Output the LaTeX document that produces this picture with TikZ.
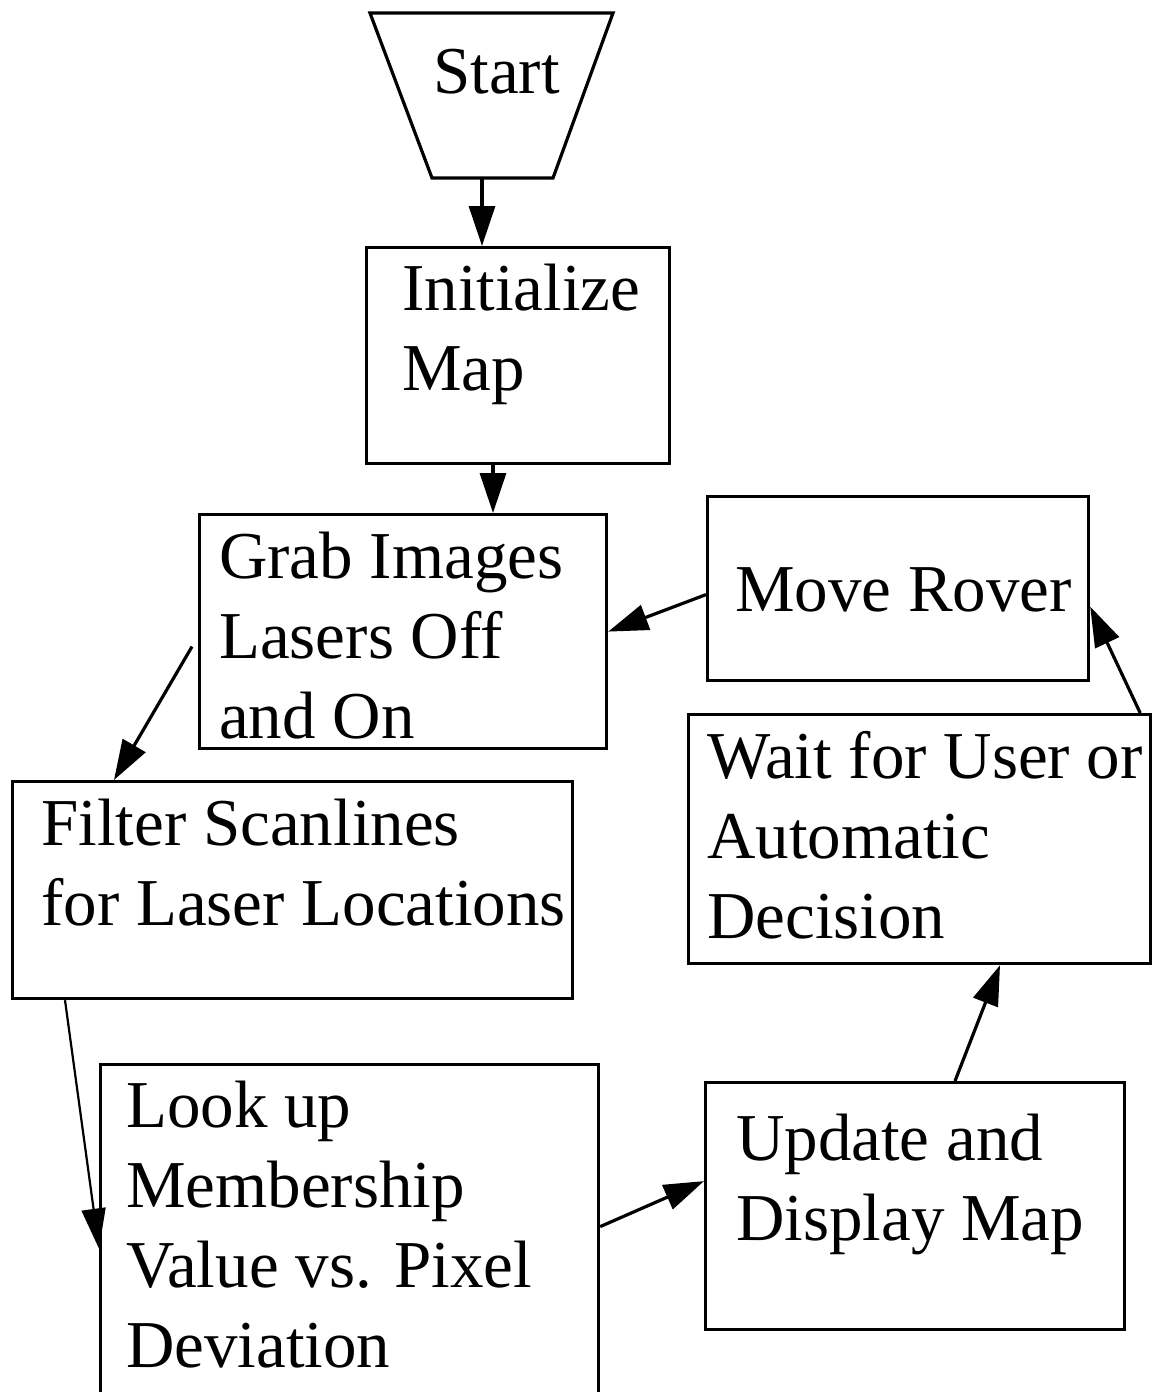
\documentclass[tikz,border=0pt]{standalone}
\usepackage{fontspec}
\setmainfont{Liberation Serif}
\usetikzlibrary{arrows.meta}
\begin{document}
\begin{tikzpicture}[x=1pt,y=-1pt,
  box/.style={draw, line width=3.2pt, inner sep=0pt, anchor=north west},
  txt/.style={anchor=base west, inner sep=0pt, font=\fontsize{67}{80}\selectfont},
  arr/.style={line width=3.2pt, -{Triangle[length=40pt,width=26pt]}},
  thinarr/.style={line width=2.2pt, -{Triangle[length=40pt,width=24pt]}}]
\useasboundingbox (0,0) rectangle (1154,1392);
\fill[white] (0,0) rectangle (1154,1392);
\clip (0,0) rectangle (1154,1392);
% Start trapezoid
\draw[line width=3.2pt, line join=miter] (370,13) -- (613,13) -- (553,178) -- (432,178) -- cycle;
\node[txt] (starttxt) at (433,93) {Start};
\coordinate (sb) at (482,178);
% boxes
\node[box, minimum width=303pt, minimum height=216pt] (init) at (365,246) {};
\node[box, minimum width=407pt, minimum height=234pt] (grab) at (198,513) {};
\node[box, minimum width=381pt, minimum height=184pt] (move) at (706,495) {};
\node[box, minimum width=462pt, minimum height=249pt] (wait) at (687,713) {};
\node[box, minimum width=560pt, minimum height=217pt] (filter) at (11,780) {};
\node[box, minimum width=498pt, minimum height=380pt] (lookup) at (99,1063) {};
\node[box, minimum width=419pt, minimum height=247pt] (update) at (704,1081) {};
% texts
\node[txt] (inittxt) at (402,310) {\vtop{\hbox{Initialize}\hbox{Map}}};
\node[txt] (grabtxt) at (219,578) {\vtop{\hbox{Grab Images}\hbox{Lasers Off}\hbox{and On}}};
\node[txt] (movetxt) at (735,611) {Move Rover};
\node[txt] (waittxt) at (707,778) {\vtop{\hbox{Wait for User or}\hbox{Automatic}\hbox{Decision}}};
\node[txt] (filtertxt) at (41,845) {\vtop{\hbox{Filter Scanlines}\hbox{for Laser Locations}}};
\node[txt] (lookuptxt) at (126,1127) {\vtop{\hbox{Look up}\hbox{Membership}\hbox{Value vs. Pixel}\hbox{Deviation}}};
\node[txt] (updatetxt) at (736,1160) {\vtop{\hbox{Update and}\hbox{Display Map}}};
% connectors
\draw[arr] (sb) -- (sb |- init.north);
\draw[arr] ([xshift=128pt]init.south west) -- ([xshift=295pt]grab.north west);
\draw[arr] ([yshift=-6pt]move.west) -- (grab.east);
\draw[arr] ([xshift=-12pt]wait.north east) -- ([yshift=-18pt]move.east);
\draw[arr] ([xshift=-6pt,yshift=-15pt]grab.west) -- ([xshift=103pt]filter.north west);
\draw[thinarr] ([xshift=54pt]filter.south west) -- ([yshift=6pt]lookup.west);
\draw[arr] ([yshift=28pt]lookup.east) -- ([yshift=25pt]update.west);
\draw[arr] ([xshift=251pt]update.north west) -- ([xshift=313pt]wait.south west);
\end{tikzpicture}
\end{document}
